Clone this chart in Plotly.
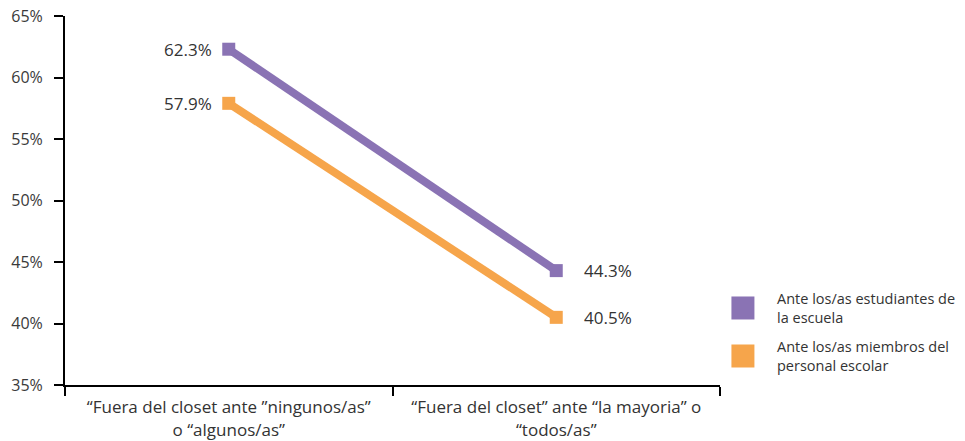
import plotly.graph_objects as go

categories = ["“Fuera del closet ante ”ningunos/as”<br>o “algunos/as”",
              "“Fuera del closet” ante “la mayoria” o<br>“todos/as”"]
series_names = ["Ante los/as estudiantes de<br>la escuela",
                "Ante los/as miembros del<br>personal escolar"]
estudiantes = [62.3, 44.3]
personal = [57.9, 40.5]
colors = ["#8A73B4", "#F6A54B"]
y_ticks = [35, 40, 45, 50, 55, 60, 65]
y_ticktext = [f"{v}%" for v in y_ticks]

FONT = "Open Sans, Noto Sans, sans-serif"
TXT = "#333333"
fig = go.Figure()
for name, vals, col in zip(series_names, [estudiantes, personal], colors):
    fig.add_trace(go.Scatter(
        x=categories, y=vals, mode="lines+markers",
        line=dict(color=col, width=8),
        marker=dict(symbol="square", size=13, color=col),
        showlegend=False, cliponaxis=False, name=name,
    ))
    for i, (c, v) in enumerate(zip(categories, vals)):
        fig.add_annotation(x=c, y=v, text=f"{v:.1f}%", showarrow=False,
                           xanchor="right" if i == 0 else "left",
                           xshift=-15 if i == 0 else 26,
                           font=dict(size=17, color=TXT, family=FONT))

# legend drawn as swatches + text
legend_y = [0.2087, 0.0786]
for name, col, ly in zip(series_names, colors, legend_y):
    fig.add_shape(type="rect", xref="paper", yref="paper",
                  xsizemode="pixel", ysizemode="pixel",
                  xanchor=1.035, yanchor=ly, x0=-11.5, x1=11.5, y0=-11.5, y1=11.5,
                  fillcolor=col, line=dict(width=0))
    fig.add_annotation(xref="paper", yref="paper", x=1.084, y=ly, text=name,
                       showarrow=False, xanchor="left", yanchor="middle",
                       align="left", font=dict(size=14.5, color=TXT, family=FONT))

fig.update_layout(
    width=965, height=441,
    margin=dict(l=65, r=245, t=16, b=56),
    plot_bgcolor="white", paper_bgcolor="white",
    font=dict(family=FONT, size=16, color=TXT),
    showlegend=False,
    xaxis=dict(type="category", showline=True, linecolor="black", linewidth=2,
               ticks="outside", tickson="boundaries", ticklen=9, tickcolor="black",
               tickwidth=1.5, showgrid=False, tickfont=dict(size=17),
               ticklabelstandoff=6,
               range=[-0.5, 1.5], automargin=False),
    yaxis=dict(range=[35, 65], tickvals=y_ticks, ticktext=y_ticktext, showline=True,
               linecolor="black", linewidth=2, ticks="outside", ticklen=9,
               tickcolor="black", tickwidth=1.5, showgrid=False, zeroline=False,
               tickfont=dict(size=16, color="#3a3a3a"), ticklabelstandoff=8,
               automargin=False),
)
fig.write_html("out.html", config={"displayModeBar": False},
               post_script="document.body.style.margin='0';")
